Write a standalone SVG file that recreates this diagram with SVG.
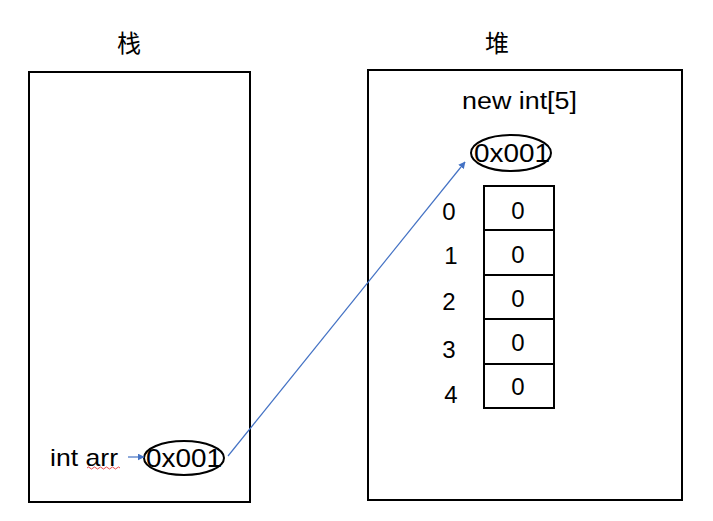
<svg xmlns="http://www.w3.org/2000/svg" width="713" height="521" viewBox="0 0 713 521">
<defs>
<style>
.box{fill:#fff;stroke:#000;stroke-width:2}
.cell{fill:#fff;stroke:#000;stroke-width:2}
.ell{fill:#fff;stroke:#000;stroke-width:2}
.t{font-family:"Liberation Sans","Noto Sans CJK SC",sans-serif;fill:#000}
.zh{font-family:"Noto Sans CJK SC",sans-serif;fill:#000}
.c{stroke:#4472C4;stroke-width:1.2;fill:none}
</style>
<marker id="ah" viewBox="0 0 10 10" refX="9" refY="5" markerWidth="7" markerHeight="7" orient="auto" markerUnits="userSpaceOnUse">
<path d="M0,0 L10,5 L0,10 z" fill="#4472C4"/>
</marker>
</defs>
<rect width="713" height="521" fill="#fff"/>
<g id="stack">
<text class="zh" x="129" y="52" font-size="24" text-anchor="middle">栈</text>
<rect class="box" x="29" y="72" width="221" height="430"/>
<text class="t" x="50" y="466" font-size="24" textLength="68" lengthAdjust="spacingAndGlyphs">int arr</text>
<path d="M87,468 q1.5,-2 3,0 t3,0 t3,0 t3,0 t3,0 t3,0 t3,0 t3,0 t3,0 t3,0 t3,0" stroke="#e02020" stroke-width="0.8" fill="none"/>
</g>
<g id="stack-ref">
<ellipse class="ell" cx="184" cy="458" rx="40" ry="17"/>
<text class="t" x="146" y="467" font-size="25" textLength="76" lengthAdjust="spacingAndGlyphs">0x001</text>
</g>
<g id="heap">
<text class="zh" x="497" y="52" font-size="24" text-anchor="middle">堆</text>
<rect class="box" x="368" y="70" width="314" height="430"/>
<text class="t" x="462" y="109" font-size="23" textLength="115" lengthAdjust="spacingAndGlyphs">new int[5]</text>
</g>
<g id="heap-addr">
<ellipse class="ell" cx="511" cy="153" rx="40" ry="18"/>
<text class="t" x="474" y="162" font-size="25" textLength="76" lengthAdjust="spacingAndGlyphs">0x001</text>
</g>
<g id="array">
<rect class="cell" x="484" y="186" width="70" height="44"/>
<rect class="cell" x="484" y="230" width="70" height="45"/>
<rect class="cell" x="484" y="275" width="70" height="44"/>
<rect class="cell" x="484" y="319" width="70" height="45"/>
<rect class="cell" x="484" y="364" width="70" height="44"/>
<g class="t" font-size="24" text-anchor="middle">
<text x="518" y="219">0</text>
<text x="518" y="263">0</text>
<text x="518" y="307">0</text>
<text x="518" y="351">0</text>
<text x="518" y="395">0</text>
<text x="449" y="220">0</text>
<text x="451" y="264">1</text>
<text x="449" y="310">2</text>
<text x="449" y="358">3</text>
<text x="451" y="403">4</text>
</g>
</g>
<g id="connectors">
<line class="c" x1="128" y1="457" x2="144" y2="457" marker-end="url(#ah)"/>
<line class="c" x1="228" y1="456" x2="465" y2="162" marker-end="url(#ah)"/>
</g>
</svg>
